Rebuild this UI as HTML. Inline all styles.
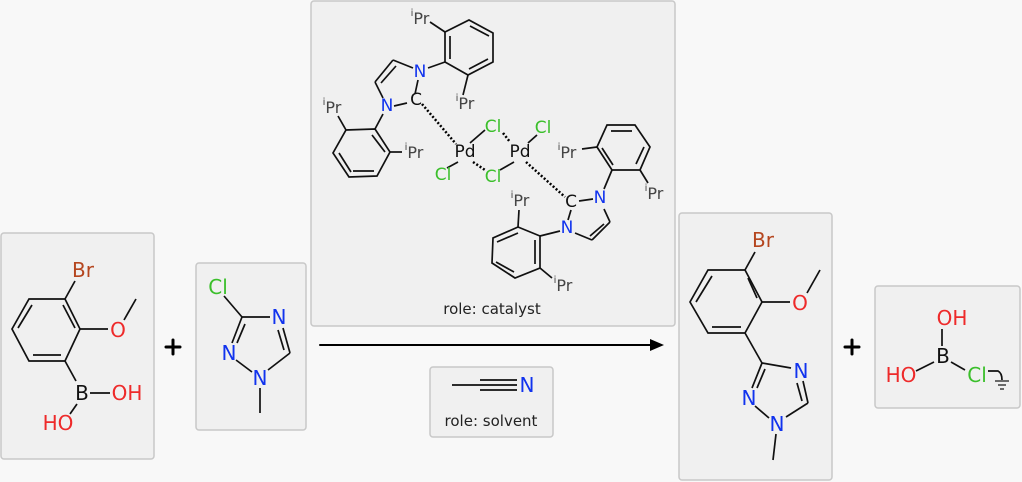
<!DOCTYPE html>
<html><head><meta charset="utf-8"><style>
html,body{margin:0;padding:0;background:#f8f8f8}
svg{display:block}
text{font-family:"DejaVu Sans","Liberation Sans",sans-serif;dominant-baseline:central;text-anchor:middle}
.a{font-size:20px}
.p{font-size:16px;fill:#444}
.r{font-size:15px;fill:#222}
</style></head><body>
<svg width="1022" height="482" viewBox="0 0 1022 482" xmlns="http://www.w3.org/2000/svg">
<g fill="#f0f0f0" stroke="#c8c8c8" stroke-width="1.5">
<rect x="1" y="233" width="153" height="226" rx="3"/>
<rect x="196" y="263" width="110" height="167" rx="3"/>
<rect x="311" y="1" width="364" height="325" rx="3"/>
<rect x="430" y="367" width="123" height="70" rx="3"/>
<rect x="679" y="213" width="153" height="267" rx="3"/>
<rect x="875" y="286" width="145" height="122" rx="3"/>
</g>
<g stroke="#000" stroke-width="2" fill="none" stroke-linecap="round">
<line x1="320" y1="345" x2="652" y2="345"/>
<line x1="166" y1="347" x2="180" y2="347" stroke-width="3"/><line x1="173" y1="340" x2="173" y2="354" stroke-width="3"/>
<line x1="845" y1="347" x2="859" y2="347" stroke-width="3"/><line x1="852" y1="340" x2="852" y2="354" stroke-width="3"/>
</g>
<polygon points="664,345 650,339 650,351" fill="#000"/>
<g stroke="#111" stroke-width="1.7" fill="none">
<!-- mol1 -->
<polygon points="29,299 65,299 80,329 65,361 29,361 12,329"/>
<line x1="18" y1="328" x2="32" y2="305"/><line x1="63" y1="305" x2="75" y2="328"/><line x1="33" y1="355" x2="61" y2="355"/>
<line x1="65" y1="299" x2="75" y2="281"/><line x1="80" y1="329" x2="108" y2="329"/><line x1="124" y1="320" x2="136" y2="299"/>
<line x1="65" y1="361" x2="76" y2="381"/><line x1="90" y1="393" x2="110" y2="393"/><line x1="77" y1="404" x2="70" y2="414"/>
<!-- mol2 -->
<line x1="224" y1="296" x2="242" y2="317"/><line x1="242" y1="317" x2="270" y2="317"/>
<line x1="283" y1="328" x2="290" y2="353"/><line x1="278" y1="330" x2="284" y2="350"/>
<line x1="290" y1="353" x2="268" y2="370"/><line x1="260" y1="388" x2="260" y2="413"/>
<line x1="252" y1="372" x2="236" y2="360"/><line x1="232" y1="343" x2="242" y2="317"/><line x1="237" y1="343" x2="245" y2="324"/>
<!-- catalyst upper aryl -->
<polygon points="445,32 469,20 493,33 493,62 468,75 445,62"/>
<line x1="450" y1="36" x2="450" y2="59"/><line x1="470" y1="26" x2="489" y2="36"/><line x1="488" y1="59" x2="469" y2="69"/>
<line x1="445" y1="32" x2="430" y2="22"/><line x1="468" y1="75" x2="463" y2="95"/><line x1="445" y1="62" x2="428" y2="68"/>
<line x1="393" y1="60" x2="413" y2="68"/><line x1="393" y1="60" x2="375" y2="82"/><line x1="396" y1="66" x2="381" y2="83"/>
<line x1="375" y1="82" x2="383" y2="98"/><line x1="394" y1="106" x2="407" y2="103"/><line x1="418" y1="80" x2="415" y2="94"/>
<line x1="383" y1="114" x2="375" y2="129"/>
<polygon points="375,129 346,130 333,153 349,177 377,176 390,152"/>
<line x1="372" y1="135" x2="385" y2="152"/><line x1="339" y1="153" x2="351" y2="172"/><line x1="353" y1="171" x2="374" y2="171"/>
<line x1="346" y1="130" x2="338" y2="116"/><line x1="390" y1="152" x2="402" y2="152"/>
<line x1="470" y1="143" x2="485" y2="130"/><line x1="458" y1="162" x2="447" y2="168"/><line x1="528" y1="143" x2="537" y2="135"/><line x1="514" y1="162" x2="500" y2="170"/>
<line x1="579" y1="201" x2="593" y2="199"/><line x1="604" y1="209" x2="610" y2="222"/><line x1="610" y1="222" x2="592" y2="240"/><line x1="604" y1="224" x2="590" y2="236"/>
<line x1="592" y1="240" x2="575" y2="233"/><line x1="568" y1="220" x2="571" y2="210"/><line x1="560" y1="231" x2="540" y2="236"/>
<polygon points="540,236 518,227 493,238 492,263 515,278 540,268"/>
<line x1="518" y1="233" x2="497" y2="242"/><line x1="496" y1="262" x2="514" y2="272"/><line x1="535" y1="240" x2="535" y2="264"/>
<line x1="518" y1="227" x2="519" y2="210"/><line x1="540" y1="268" x2="552" y2="278"/>
<polygon points="597,147 607,125 635,125 650,147 640,170 612,170"/>
<line x1="611" y1="131" x2="632" y2="131"/><line x1="644" y1="147" x2="636" y2="164"/><line x1="602" y1="148" x2="613" y2="165"/>
<line x1="612" y1="170" x2="604" y2="189"/><line x1="597" y1="147" x2="582" y2="149"/><line x1="640" y1="170" x2="648" y2="183"/>
<!-- product -->
<polygon points="708,270 745,270 762,302 745,333 708,333 690,302"/>
<line x1="712" y1="276" x2="696" y2="302"/><line x1="748" y1="278" x2="757" y2="298"/><line x1="712" y1="327" x2="741" y2="327"/>
<line x1="745" y1="270" x2="755" y2="252"/><line x1="762" y1="302" x2="790" y2="302"/><line x1="807" y1="293" x2="820" y2="270"/>
<line x1="745" y1="333" x2="762" y2="363"/><line x1="762" y1="363" x2="791" y2="368"/>
<line x1="803" y1="381" x2="808" y2="403"/><line x1="797" y1="383" x2="802" y2="401"/>
<line x1="808" y1="403" x2="786" y2="417"/><line x1="776" y1="434" x2="773" y2="460"/>
<line x1="769" y1="418" x2="755" y2="406"/><line x1="752" y1="388" x2="762" y2="363"/><line x1="757" y1="388" x2="765" y2="369"/>
<!-- byproduct -->
<line x1="942" y1="329" x2="942" y2="346"/><line x1="934" y1="362" x2="916" y2="371"/><line x1="951" y1="362" x2="965" y2="370"/>
<path d="M988,371 L998,371 Q1002,373 1002,380"/>
<line x1="995" y1="381" x2="1009" y2="381" stroke-width="1.2"/><line x1="998" y1="385" x2="1006" y2="385" stroke-width="1.2"/><line x1="1000" y1="389" x2="1004" y2="389" stroke-width="1.2"/>
<!-- solvent -->
<line x1="452" y1="385" x2="480" y2="385"/><line x1="480" y1="380" x2="517" y2="380"/><line x1="480" y1="385" x2="517" y2="385"/><line x1="480" y1="390" x2="517" y2="390"/>
</g>
<g stroke="#000" stroke-width="2.5" stroke-dasharray="2 2" fill="none">
<line x1="422" y1="104" x2="456" y2="144"/><line x1="473" y1="162" x2="485" y2="170"/><line x1="503" y1="133" x2="510" y2="142"/><line x1="526" y1="162" x2="565" y2="197"/>
</g>
<g class="a">
<text x="83" y="270" fill="#b5461f">Br</text>
<text x="118" y="330" fill="#ee2a2a">O</text>
<text x="82" y="393" fill="#111">B</text>
<text x="127" y="393" fill="#ee2a2a">OH</text>
<text x="58" y="423" fill="#ee2a2a">HO</text>
<text x="218" y="287" fill="#3bbf2b">Cl</text>
<text x="279" y="317" fill="#1133ee">N</text>
<text x="260" y="378" fill="#1133ee">N</text>
<text x="229" y="353" fill="#1133ee">N</text>
<text x="763" y="240" fill="#b5461f">Br</text>
<text x="800" y="303" fill="#ee2a2a">O</text>
<text x="801" y="371" fill="#1133ee">N</text>
<text x="777" y="424" fill="#1133ee">N</text>
<text x="749" y="398" fill="#1133ee">N</text>
<text x="952" y="318" fill="#ee2a2a">OH</text>
<text x="943" y="356" fill="#111">B</text>
<text x="901" y="375" fill="#ee2a2a">HO</text>
<text x="977" y="375" fill="#3bbf2b">Cl</text>
<text x="527" y="385" fill="#1133ee">N</text>
</g>
<g style="font-size:17px">
<text x="420" y="72" fill="#1133ee">N</text>
<text x="416" y="100" fill="#111">C</text>
<text x="387" y="106" fill="#1133ee">N</text>
<text x="465" y="152" fill="#111">Pd</text>
<text x="520" y="152" fill="#111">Pd</text>
<text x="493" y="127" fill="#3bbf2b">Cl</text>
<text x="543" y="128" fill="#3bbf2b">Cl</text>
<text x="443" y="175" fill="#3bbf2b">Cl</text>
<text x="493" y="177" fill="#3bbf2b">Cl</text>
<text x="571" y="202" fill="#111">C</text>
<text x="600" y="198" fill="#1133ee">N</text>
<text x="567" y="228" fill="#1133ee">N</text>
</g>
<g class="p">
<text x="420" y="18"><tspan font-size="10" dy="-5">i</tspan><tspan dy="5">Pr</tspan></text>
<text x="465" y="103"><tspan font-size="10" dy="-5">i</tspan><tspan dy="5">Pr</tspan></text>
<text x="332" y="107"><tspan font-size="10" dy="-5">i</tspan><tspan dy="5">Pr</tspan></text>
<text x="414" y="152"><tspan font-size="10" dy="-5">i</tspan><tspan dy="5">Pr</tspan></text>
<text x="567" y="152"><tspan font-size="10" dy="-5">i</tspan><tspan dy="5">Pr</tspan></text>
<text x="654" y="193"><tspan font-size="10" dy="-5">i</tspan><tspan dy="5">Pr</tspan></text>
<text x="520" y="200"><tspan font-size="10" dy="-5">i</tspan><tspan dy="5">Pr</tspan></text>
<text x="563" y="285"><tspan font-size="10" dy="-5">i</tspan><tspan dy="5">Pr</tspan></text>
</g>
<text class="r" x="492" y="309">role: catalyst</text>
<text class="r" x="491" y="421">role: solvent</text>
</svg>
</body></html>
